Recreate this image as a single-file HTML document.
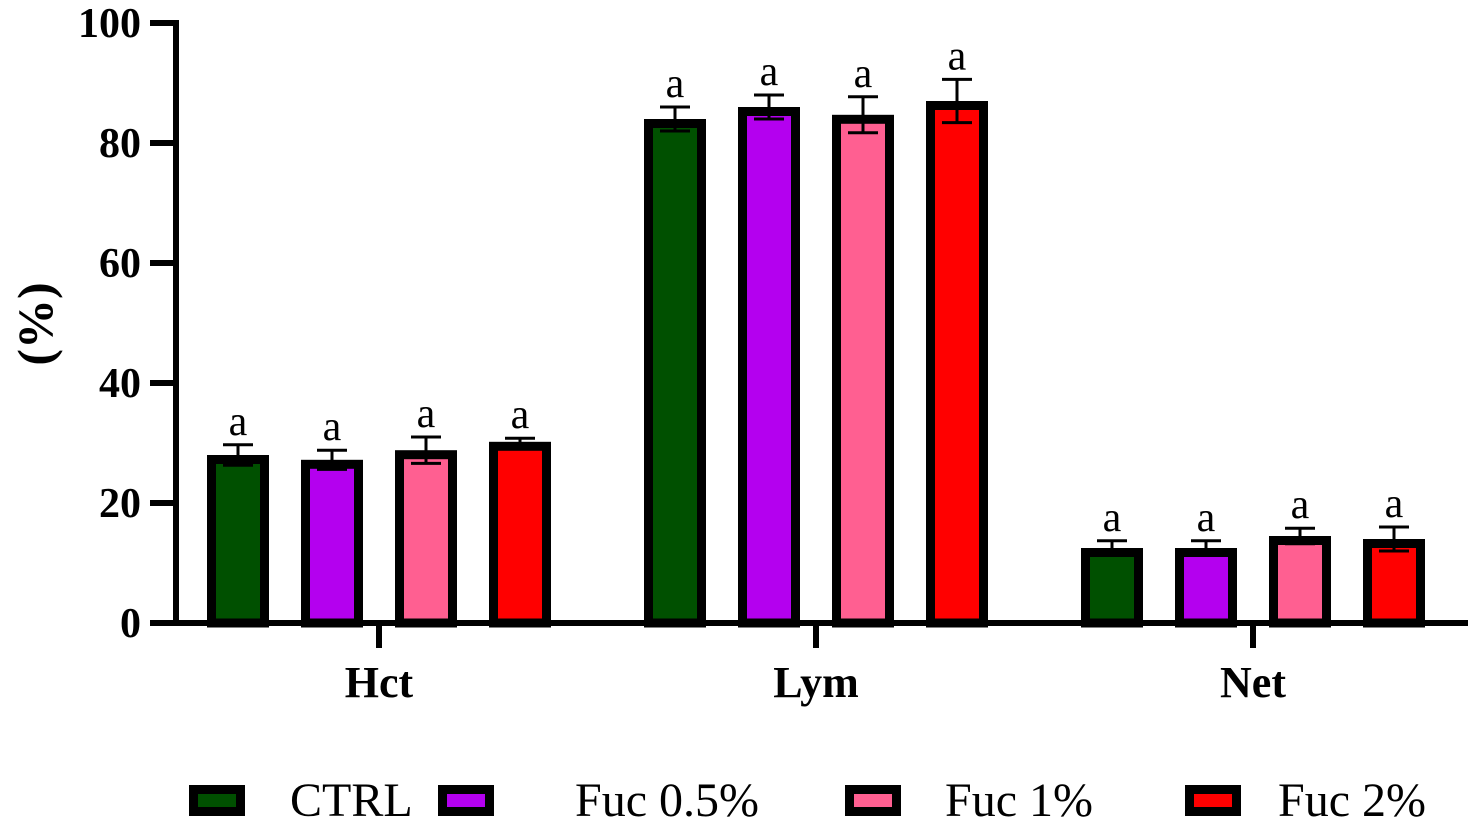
<!DOCTYPE html>
<html><head><meta charset="utf-8"><style>
html,body{margin:0;padding:0;background:#fff;}
svg{display:block;font-family:"Liberation Serif",serif;}
</style></head><body>
<svg id="chart" width="1468" height="828" viewBox="0 0 1468 828" xmlns="http://www.w3.org/2000/svg"></svg>
<script>
const categories = ["Hct", "Lym", "Net"];
const seriesNames = ["CTRL", "Fuc 0.5%", "Fuc 1%", "Fuc 2%"];
const ctrlValues = [28, 84, 12.5];
const fuc05Values = [27.2, 86, 12.5];
const fuc1Values = [28.8, 84.7, 14.5];
const fuc2Values = [30.2, 87, 14];
const ctrlErr = [1.7, 2, 1.2];
const fuc05Err = [1.6, 2, 1.2];
const fuc1Err = [2.2, 3, 1.3];
const fuc2Err = [0.6, 3.6, 2];
const sigLabels = ["a", "a", "a"];
const yTicks = [0, 20, 40, 60, 80, 100];

const colors = ["#005000", "#b400ef", "#ff5f91", "#ff0000"];
const series = [ctrlValues, fuc05Values, fuc1Values, fuc2Values];
const errs = [ctrlErr, fuc05Err, fuc1Err, fuc2Err];
const NS = "http://www.w3.org/2000/svg";
const svg = document.getElementById("chart");
const y0 = 623, yScale = 6;
const y = v => y0 - v * yScale;
const groupX = i => 379 + i * 437;
const barX = (g, s) => groupX(g) + (s - 1.5) * 94;
function el(tag, attrs, parent) {
  const e = document.createElementNS(NS, tag);
  for (const k in attrs) e.setAttribute(k, attrs[k]);
  (parent || svg).appendChild(e);
  return e;
}
categories.forEach((c, g) => {
  series.forEach((vals, s) => {
    const cx = barX(g, s), v = vals[g], e = errs[s][g];
    const r = el("rect", {x: cx - 26.5, y: y(v) + 4.5, width: 53, height: y0 - y(v) - 4.5, fill: colors[s], stroke: "#000", "stroke-width": 9});
    
    
    const eg = el("g", {stroke: "#000", "stroke-width": 3});
    
    
    el("line", {x1: cx, x2: cx, y1: y(v + e), y2: y(v - e)}, eg);
    el("line", {x1: cx - 15, x2: cx + 15, y1: y(v + e), y2: y(v + e)}, eg);
    el("line", {x1: cx - 15, x2: cx + 15, y1: y(v - e), y2: y(v - e)}, eg);
    const t = el("text", {x: cx, y: y(v + e) - 10, "font-size": 42, "text-anchor": "middle"});
    t.textContent = sigLabels[g];
    
    
  });
  const tk = el("line", {x1: groupX(g), x2: groupX(g), y1: y0, y2: 648, stroke: "#000", "stroke-width": 6});
  
  
  const lt = el("text", {x: groupX(g), y: 697, "font-size": 44, "font-weight": "bold", "text-anchor": "middle"});
  lt.textContent = c;
  
  
});
const xa = el("line", {x1: 150, x2: 1468, y1: y0, y2: y0, stroke: "#000", "stroke-width": 6});


const ya = el("line", {x1: 176, x2: 176, y1: y(100) - 3, y2: y0 + 3, stroke: "#000", "stroke-width": 6});


yTicks.forEach(v => {
  const l = el("line", {x1: 150, x2: 176, y1: y(v), y2: y(v), stroke: "#000", "stroke-width": 6});
  
  
  const t = el("text", {x: 141, y: y(v) + 14, "font-size": 42, "font-weight": "bold", "text-anchor": "end"});
  t.textContent = v;
  
  
});
const yt = el("text", {x: 0, y: 0, "font-size": 50, "font-weight": "bold", "text-anchor": "middle", transform: "translate(52,324) rotate(-90)"});
yt.textContent = "(%)";


const legBox = [189, 438, 845, 1185];
const legText = [290, 575, 945, 1278];
seriesNames.forEach((n, s) => {
  const g = el("g", {});
  
  
  el("rect", {x: legBox[s] + 4.5, y: 789.5, width: 47, height: 22, fill: colors[s], stroke: "#000", "stroke-width": 9}, g);
  const t = el("text", {x: legText[s], y: 816, "font-size": 48}, g);
  t.textContent = n;
});
</script>
</body></html>
